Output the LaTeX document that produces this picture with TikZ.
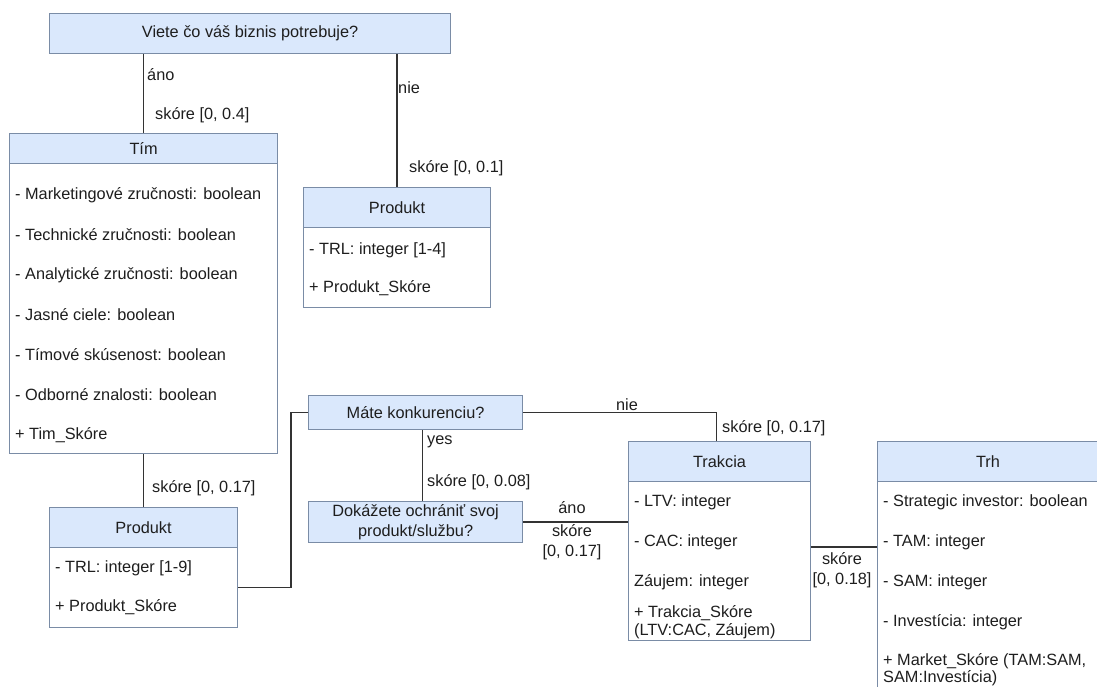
\documentclass[tikz,border=0pt]{standalone}
\usepackage{fontspec}
\setmainfont{Liberation Sans}
\usetikzlibrary{calc}
\definecolor{hdrfill}{HTML}{DAE8FC}
\definecolor{boxline}{HTML}{7A8CA6}
\definecolor{wirecol}{HTML}{333333}
\definecolor{ink}{HTML}{1E1E1E}
\begin{document}
\begin{tikzpicture}[x=1pt,y=-1pt,
  every node/.style={font=\fontsize{16.3}{20}\selectfont, text=ink},
  hdr/.style={draw=boxline, fill=hdrfill, line width=1.1pt, inner sep=0pt, anchor=north west, align=center},
  body/.style={draw=boxline, fill=white, line width=1.1pt, inner sep=0pt, anchor=north west},
  row/.style={anchor=west, inner sep=0pt, align=left},
  lbl/.style={inner sep=0pt},
  wire/.style={draw=wirecol, line width=1.4pt}]
\useasboundingbox (0,0) rectangle (1097,687);
\clip (0,0) rectangle (1097,687);

% question boxes
\node[hdr, minimum width=401pt, minimum height=40pt] (q1) at (49,13) {Viete čo váš biznis potrebuje?};
\node[hdr, minimum width=214pt, minimum height=34pt] (q2) at (308,395) {Máte konkurenciu?};
\node[hdr, minimum width=214pt, minimum height=41pt] (q3) at (308,501) {Dokážete ochrániť svoj\\produkt/službu?};

% Tim
\node[body, minimum width=268pt, minimum height=290pt] (timb) at (9,163) {};
\node[hdr, minimum width=268pt, minimum height=30pt] (tim) at (9,133) {Tím};
\node[row] (t1) at (15,195) {- Marketingové zručnosti: boolean};
\node[row] (t2) at (15,235) {- Technické zručnosti: boolean};
\node[row] (t3) at (15,275) {- Analytické zručnosti: boolean};
\node[row] (t4) at (15,315) {- Jasné ciele: boolean};
\node[row] (t5) at (15,355) {- Tímové skúsenost: boolean};
\node[row] (t6) at (15,395) {- Odborné znalosti: boolean};
\node[row] (t7) at (15,435) {+ Tim\_Skóre};

% Produkt (upper)
\node[body, minimum width=187pt, minimum height=80pt] (prod1b) at (303,227) {};
\node[hdr, minimum width=187pt, minimum height=40pt] (prod1) at (303,187) {Produkt};
\node[row] (p11) at (309,250) {- TRL: integer [1-4]};
\node[row] (p12) at (309,288) {+ Produkt\_Skóre};

% Produkt (lower)
\node[body, minimum width=188pt, minimum height=80pt] (prod2b) at (49,547) {};
\node[hdr, minimum width=188pt, minimum height=40pt] (prod2) at (49,507) {Produkt};
\node[row] (p21) at (55,568) {- TRL: integer [1-9]};
\node[row] (p22) at (55,607) {+ Produkt\_Skóre};

% Trakcia
\node[body, minimum width=182pt, minimum height=159pt] (trakb) at (628,481) {};
\node[hdr, minimum width=182pt, minimum height=40pt] (trak) at (628,441) {Trakcia};
\node[row] (k1) at (634,502) {- LTV: integer};
\node[row] (k2) at (634,542) {- CAC: integer};
\node[row] (k3) at (634,582) {Záujem: integer};
\node[row, font=\fontsize{16.3}{18}\selectfont] (k4) at (634,622) {+ Trakcia\_Skóre\\(LTV:CAC, Záujem)};

% Trh
\node[body, minimum width=221pt, minimum height=230pt] (trhb) at (877,481) {};
\node[hdr, minimum width=221pt, minimum height=40pt] (trh) at (877,441) {Trh};
\node[row] (m1) at (883,502) {- Strategic investor: boolean};
\node[row] (m2) at (883,542) {- TAM: integer};
\node[row] (m3) at (883,582) {- SAM: integer};
\node[row] (m4) at (883,622) {- Investícia: integer};
\node[row, font=\fontsize{16.3}{17}\selectfont] (m5) at (883,670) {+ Market\_Skóre (TAM:SAM,\\SAM:Investícia)};

% connector end points
\coordinate (qa) at (q1.south -| tim.north);
\coordinate (qb) at (q1.south -| prod1.north);
\coordinate (ka) at ($(trakb.east)+(0,-14)$);
\coordinate (kb) at (ka -| trhb.west);
\coordinate (na) at ($(trak.north)+(-3,0)$);

% connectors
\draw[wire] (qa) -- (tim.north);
\draw[wire] (qb) -- (prod1.north);
\draw[wire] (timb.south) -- (prod2.north);
\draw[wire] (prod2b.east) -- ++(53,0) |- (q2.west);
\draw[wire] ($(q2.south)+(7,0)$) -- ($(q3.north)+(7,0)$);
\draw[wire] (q3.east) -- (q3.east -| trakb.west);
\draw[wire] (q2.east) -| (na);
\draw[wire] (ka) -- (kb);

% connector labels
\node[lbl, anchor=west] (l1) at (147,75) {áno};
\node[lbl, anchor=west] (l2) at (155,115) {skóre [0, 0.4]};
\node[lbl, anchor=west] (l3) at (398,88) {nie};
\node[lbl, anchor=west] (l4) at (409,168) {skóre [0, 0.1]};
\node[lbl, anchor=west] (l5) at (152,488) {skóre [0, 0.17]};
\node[lbl, anchor=west] (l6) at (427,442) {yes};
\node[lbl, anchor=west] (l7) at (427,482) {skóre [0, 0.08]};
\node[lbl] (l8) at (627,405) {nie};
\node[lbl, anchor=west] (l9) at (722,428) {skóre [0, 0.17]};
\node[lbl] (l10) at (572,508) {áno};
\node[lbl, align=center] (l11) at (572,542) {skóre\\{[}0, 0.17]};
\node[lbl, align=center] (l12) at (842,570) {skóre\\{[}0, 0.18]};
\end{tikzpicture}
\end{document}
